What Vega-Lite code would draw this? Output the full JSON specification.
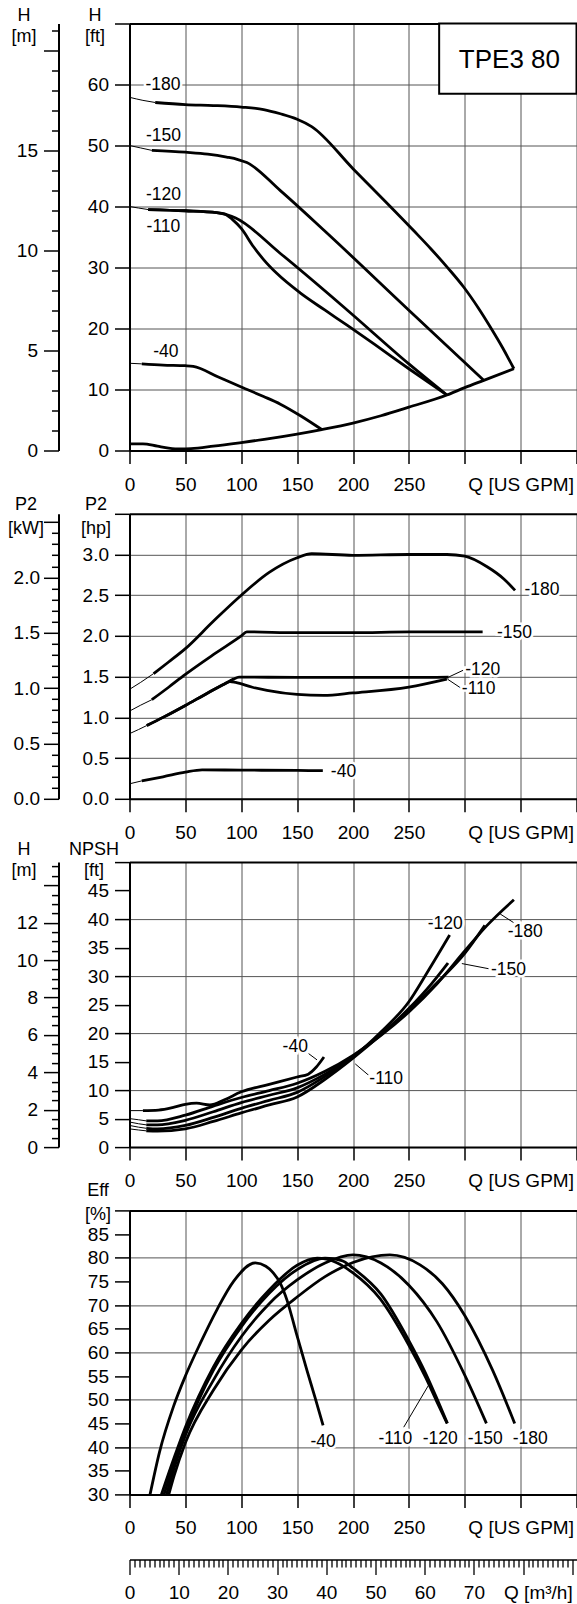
{
  "$schema": "https://vega.github.io/schema/vega-lite/v6.json",
  "background": "white",
  "padding": {"left": 7.5, "top": 6.5, "right": 0, "bottom": 0},
  "config": {
    "font": "Liberation Sans",
    "view": {"stroke": null},
    "axis": {
      "labelFont": "Liberation Sans", "labelFontSize": 19, "labelColor": "black",
      "titleFont": "Liberation Sans", "titleFontSize": 18, "titleFontWeight": "normal", "titleColor": "black",
      "domainColor": "black", "domainWidth": 2, "tickColor": "black", "tickWidth": 1.5,
      "gridColor": "#555", "gridWidth": 1, "labelOverlap": false, "labelBound": false, "labelFlush": false
    },
    "text": {"font": "Liberation Sans", "fontSize": 17.5},
    "line": {"interpolate": "monotone", "color": "black", "strokeJoin": "round"}
  },
  "datasets": {
    "h": [
      {"c":"-180","part":"start","q":0,"v":57.9},{"c":"-180","part":"start","q":12,"v":57.4},{"c":"-180","part":"start","q":23,"v":57.05},
      {"c":"-180","part":"main","q":23,"v":57.05},{"c":"-180","part":"main","q":50,"v":56.7},{"c":"-180","part":"main","q":75,"v":56.55},{"c":"-180","part":"main","q":100,"v":56.3},{"c":"-180","part":"main","q":120,"v":55.9},{"c":"-180","part":"main","q":135,"v":55.2},{"c":"-180","part":"main","q":150,"v":54.3},{"c":"-180","part":"main","q":163,"v":53.1},{"c":"-180","part":"main","q":200,"v":46.2},{"c":"-180","part":"main","q":254,"v":36.1},{"c":"-180","part":"main","q":270,"v":33.0},{"c":"-180","part":"main","q":285,"v":29.9},{"c":"-180","part":"main","q":299,"v":26.8},{"c":"-180","part":"main","q":312,"v":23.4},{"c":"-180","part":"main","q":323,"v":20.2},{"c":"-180","part":"main","q":334,"v":16.8},{"c":"-180","part":"main","q":344,"v":13.4},
      {"c":"-150","part":"start","q":0,"v":50.0},{"c":"-150","part":"start","q":10,"v":49.6},{"c":"-150","part":"start","q":20,"v":49.2},
      {"c":"-150","part":"main","q":20,"v":49.2},{"c":"-150","part":"main","q":50,"v":48.9},{"c":"-150","part":"main","q":70,"v":48.6},{"c":"-150","part":"main","q":87,"v":48.1},{"c":"-150","part":"main","q":97,"v":47.7},{"c":"-150","part":"main","q":105,"v":47.2},{"c":"-150","part":"main","q":135,"v":42.6},{"c":"-150","part":"main","q":174,"v":36.1},{"c":"-150","part":"main","q":250,"v":23.0},{"c":"-150","part":"main","q":317,"v":11.5},
      {"c":"-120","part":"start","q":0,"v":40.0},{"c":"-120","part":"start","q":8,"v":39.75},{"c":"-120","part":"start","q":16.7,"v":39.5},
      {"c":"-120","part":"main","q":16.7,"v":39.5},{"c":"-120","part":"main","q":50,"v":39.3},{"c":"-120","part":"main","q":78,"v":39.0},{"c":"-120","part":"main","q":88,"v":38.6},{"c":"-120","part":"main","q":95,"v":38.1},{"c":"-120","part":"main","q":135,"v":32.3},{"c":"-120","part":"main","q":195,"v":23.0},{"c":"-120","part":"main","q":250,"v":14.2},{"c":"-120","part":"main","q":284,"v":9.1},
      {"c":"-110","part":"main","q":16.7,"v":39.5},{"c":"-110","part":"main","q":50,"v":39.3},{"c":"-110","part":"main","q":78,"v":39.0},{"c":"-110","part":"main","q":85,"v":38.8},{"c":"-110","part":"main","q":92,"v":37.9},{"c":"-110","part":"main","q":100,"v":36.4},{"c":"-110","part":"main","q":111,"v":33.4},{"c":"-110","part":"main","q":120,"v":31.3},{"c":"-110","part":"main","q":132,"v":29.0},{"c":"-110","part":"main","q":153,"v":25.8},{"c":"-110","part":"main","q":175,"v":23.0},{"c":"-110","part":"main","q":195,"v":20.5},{"c":"-110","part":"main","q":220,"v":17.3},{"c":"-110","part":"main","q":250,"v":13.4},{"c":"-110","part":"main","q":284,"v":9.1},
      {"c":"-40","part":"start","q":0,"v":14.3},{"c":"-40","part":"start","q":11,"v":14.2},
      {"c":"-40","part":"main","q":11,"v":14.2},{"c":"-40","part":"main","q":30,"v":14.0},{"c":"-40","part":"main","q":50,"v":13.9},{"c":"-40","part":"main","q":57,"v":13.8},{"c":"-40","part":"main","q":80,"v":12.0},{"c":"-40","part":"main","q":100,"v":10.4},{"c":"-40","part":"main","q":120,"v":8.85},{"c":"-40","part":"main","q":135,"v":7.6},{"c":"-40","part":"main","q":153,"v":5.7},{"c":"-40","part":"main","q":172,"v":3.44},
      {"c":"sys","part":"main","q":0,"v":1.1},{"c":"sys","part":"main","q":12,"v":1.1},{"c":"sys","part":"main","q":25,"v":0.7},{"c":"sys","part":"main","q":35,"v":0.4},{"c":"sys","part":"main","q":45,"v":0.25},{"c":"sys","part":"main","q":55,"v":0.3},{"c":"sys","part":"main","q":75,"v":0.7},{"c":"sys","part":"main","q":100,"v":1.3},{"c":"sys","part":"main","q":125,"v":1.95},{"c":"sys","part":"main","q":150,"v":2.7},{"c":"sys","part":"main","q":172,"v":3.44},{"c":"sys","part":"main","q":200,"v":4.5},{"c":"sys","part":"main","q":225,"v":5.7},{"c":"sys","part":"main","q":250,"v":7.1},{"c":"sys","part":"main","q":284,"v":9.1},{"c":"sys","part":"main","q":300,"v":10.3},{"c":"sys","part":"main","q":317,"v":11.5},{"c":"sys","part":"main","q":344,"v":13.4}
    ],
    "p2": [
      {"c":"-180","part":"start","q":0,"v":1.344},{"c":"-180","part":"start","q":10,"v":1.43},{"c":"-180","part":"start","q":21.5,"v":1.537},
      {"c":"-180","part":"main","q":21.5,"v":1.537},{"c":"-180","part":"main","q":35,"v":1.68},{"c":"-180","part":"main","q":50,"v":1.844},{"c":"-180","part":"main","q":75,"v":2.18},{"c":"-180","part":"main","q":100,"v":2.5},{"c":"-180","part":"main","q":125,"v":2.78},{"c":"-180","part":"main","q":150,"v":2.96},{"c":"-180","part":"main","q":163,"v":3.01},{"c":"-180","part":"main","q":200,"v":2.99},{"c":"-180","part":"main","q":250,"v":3.0},{"c":"-180","part":"main","q":284,"v":3.0},{"c":"-180","part":"main","q":300,"v":2.98},{"c":"-180","part":"main","q":320,"v":2.85},{"c":"-180","part":"main","q":335,"v":2.7},{"c":"-180","part":"main","q":345,"v":2.56},
      {"c":"-150","part":"start","q":0,"v":1.077},{"c":"-150","part":"start","q":10,"v":1.15},{"c":"-150","part":"start","q":20,"v":1.217},
      {"c":"-150","part":"main","q":20,"v":1.217},{"c":"-150","part":"main","q":35,"v":1.37},{"c":"-150","part":"main","q":50,"v":1.528},{"c":"-150","part":"main","q":75,"v":1.77},{"c":"-150","part":"main","q":100,"v":2.0},{"c":"-150","part":"main","q":105,"v":2.05},{"c":"-150","part":"main","q":150,"v":2.04},{"c":"-150","part":"main","q":200,"v":2.04},{"c":"-150","part":"main","q":250,"v":2.05},{"c":"-150","part":"main","q":316,"v":2.05},
      {"c":"-120","part":"start","q":0,"v":0.8},{"c":"-120","part":"start","q":8,"v":0.85},{"c":"-120","part":"start","q":15.5,"v":0.9},
      {"c":"-120","part":"main","q":15.5,"v":0.9},{"c":"-120","part":"main","q":30,"v":1.0},{"c":"-120","part":"main","q":50,"v":1.147},{"c":"-120","part":"main","q":70,"v":1.3},{"c":"-120","part":"main","q":85,"v":1.41},{"c":"-120","part":"main","q":93,"v":1.47},{"c":"-120","part":"main","q":98,"v":1.495},{"c":"-120","part":"main","q":150,"v":1.49},{"c":"-120","part":"main","q":200,"v":1.49},{"c":"-120","part":"main","q":250,"v":1.49},{"c":"-120","part":"main","q":285.6,"v":1.495},
      {"c":"-110","part":"main","q":15.5,"v":0.9},{"c":"-110","part":"main","q":30,"v":1.0},{"c":"-110","part":"main","q":50,"v":1.147},{"c":"-110","part":"main","q":70,"v":1.3},{"c":"-110","part":"main","q":85,"v":1.41},{"c":"-110","part":"main","q":90,"v":1.44},{"c":"-110","part":"main","q":95,"v":1.43},{"c":"-110","part":"main","q":110,"v":1.37},{"c":"-110","part":"main","q":123,"v":1.332},{"c":"-110","part":"main","q":150,"v":1.282},{"c":"-110","part":"main","q":173.7,"v":1.27},{"c":"-110","part":"main","q":200,"v":1.3},{"c":"-110","part":"main","q":250,"v":1.372},{"c":"-110","part":"main","q":284,"v":1.47},
      {"c":"-40","part":"start","q":0,"v":0.184},{"c":"-40","part":"start","q":11,"v":0.22},
      {"c":"-40","part":"main","q":11,"v":0.22},{"c":"-40","part":"main","q":30,"v":0.27},{"c":"-40","part":"main","q":50,"v":0.327},{"c":"-40","part":"main","q":65,"v":0.355},{"c":"-40","part":"main","q":100,"v":0.352},{"c":"-40","part":"main","q":150,"v":0.348},{"c":"-40","part":"main","q":173,"v":0.345}
    ],
    "npsh": [
      {"c":"-180","part":"start","q":0,"v":5.0},{"c":"-180","part":"start","q":8,"v":4.8},{"c":"-180","part":"start","q":15,"v":4.6},
      {"c":"-180","part":"main","q":15,"v":4.6},{"c":"-180","part":"main","q":25,"v":4.6},{"c":"-180","part":"main","q":50,"v":5.6},{"c":"-180","part":"main","q":75,"v":7.2},{"c":"-180","part":"main","q":100,"v":8.7},{"c":"-180","part":"main","q":125,"v":9.9},{"c":"-180","part":"main","q":150,"v":11.2},{"c":"-180","part":"main","q":175,"v":13.3},{"c":"-180","part":"main","q":200,"v":16.1},{"c":"-180","part":"main","q":225,"v":19.6},{"c":"-180","part":"main","q":250,"v":23.7},{"c":"-180","part":"main","q":275,"v":28.6},{"c":"-180","part":"main","q":300,"v":34.4},{"c":"-180","part":"main","q":320,"v":38.9},{"c":"-180","part":"main","q":344,"v":43.4},
      {"c":"-150","part":"start","q":0,"v":4.4},{"c":"-150","part":"start","q":8,"v":4.1},{"c":"-150","part":"start","q":15,"v":3.9},
      {"c":"-150","part":"main","q":15,"v":3.9},{"c":"-150","part":"main","q":25,"v":3.9},{"c":"-150","part":"main","q":50,"v":4.7},{"c":"-150","part":"main","q":75,"v":6.2},{"c":"-150","part":"main","q":100,"v":7.8},{"c":"-150","part":"main","q":125,"v":9.1},{"c":"-150","part":"main","q":150,"v":10.4},{"c":"-150","part":"main","q":175,"v":12.8},{"c":"-150","part":"main","q":200,"v":15.9},{"c":"-150","part":"main","q":225,"v":19.8},{"c":"-150","part":"main","q":250,"v":24.0},{"c":"-150","part":"main","q":275,"v":28.8},{"c":"-150","part":"main","q":300,"v":34.0},{"c":"-150","part":"main","q":318,"v":38.9},
      {"c":"-120","part":"start","q":0,"v":3.8},{"c":"-120","part":"start","q":8,"v":3.5},{"c":"-120","part":"start","q":15,"v":3.3},
      {"c":"-120","part":"main","q":15,"v":3.3},{"c":"-120","part":"main","q":25,"v":3.2},{"c":"-120","part":"main","q":50,"v":3.8},{"c":"-120","part":"main","q":75,"v":5.2},{"c":"-120","part":"main","q":100,"v":6.8},{"c":"-120","part":"main","q":125,"v":8.2},{"c":"-120","part":"main","q":150,"v":9.6},{"c":"-120","part":"main","q":175,"v":12.4},{"c":"-120","part":"main","q":200,"v":15.8},{"c":"-120","part":"main","q":225,"v":20.2},{"c":"-120","part":"main","q":250,"v":25.5},{"c":"-120","part":"main","q":266,"v":30.5},{"c":"-120","part":"main","q":286.5,"v":37.2},
      {"c":"-110","part":"start","q":0,"v":3.2},{"c":"-110","part":"start","q":8,"v":3.0},{"c":"-110","part":"start","q":15,"v":2.85},
      {"c":"-110","part":"main","q":15,"v":2.85},{"c":"-110","part":"main","q":25,"v":2.8},{"c":"-110","part":"main","q":50,"v":3.2},{"c":"-110","part":"main","q":75,"v":4.5},{"c":"-110","part":"main","q":100,"v":6.0},{"c":"-110","part":"main","q":125,"v":7.4},{"c":"-110","part":"main","q":150,"v":8.8},{"c":"-110","part":"main","q":175,"v":11.9},{"c":"-110","part":"main","q":200,"v":15.6},{"c":"-110","part":"main","q":225,"v":19.7},{"c":"-110","part":"main","q":250,"v":24.3},{"c":"-110","part":"main","q":270,"v":28.6},{"c":"-110","part":"main","q":285,"v":32.3},
      {"c":"-40","part":"start","q":0,"v":6.4},{"c":"-40","part":"start","q":12,"v":6.4},
      {"c":"-40","part":"main","q":12,"v":6.4},{"c":"-40","part":"main","q":26,"v":6.5},{"c":"-40","part":"main","q":40,"v":7.0},{"c":"-40","part":"main","q":50,"v":7.5},{"c":"-40","part":"main","q":60,"v":7.7},{"c":"-40","part":"main","q":72,"v":7.4},{"c":"-40","part":"main","q":85,"v":8.3},{"c":"-40","part":"main","q":100,"v":9.7},{"c":"-40","part":"main","q":125,"v":11.0},{"c":"-40","part":"main","q":150,"v":12.3},{"c":"-40","part":"main","q":160,"v":12.8},{"c":"-40","part":"main","q":167,"v":14.0},{"c":"-40","part":"main","q":174,"v":15.8}
    ],
    "eff": [
      {"c":"-40","q":18.4,"v":30},{"c":"-40","q":26.9,"v":39.0},{"c":"-40","q":39.4,"v":48.6},{"c":"-40","q":50,"v":55.0},{"c":"-40","q":63.3,"v":61.9},{"c":"-40","q":78.2,"v":69.0},{"c":"-40","q":93.1,"v":75.0},{"c":"-40","q":112.6,"v":78.9},{"c":"-40","q":122,"v":78.2},{"c":"-40","q":129,"v":76.7},{"c":"-40","q":135,"v":74.6},{"c":"-40","q":141,"v":71.0},{"c":"-40","q":149,"v":64.3},{"c":"-40","q":158.8,"v":56.2},{"c":"-40","q":166,"v":50.5},{"c":"-40","q":173.2,"v":44.6},
      {"c":"-110","q":28.6,"v":30},{"c":"-110","q":40,"v":37.8},{"c":"-110","q":50,"v":44.2},{"c":"-110","q":75,"v":56.9},{"c":"-110","q":100,"v":66.1},{"c":"-110","q":125,"v":73.2},{"c":"-110","q":150,"v":78.4},{"c":"-110","q":168,"v":79.9},{"c":"-110","q":185,"v":79.0},{"c":"-110","q":200,"v":76.8},{"c":"-110","q":224,"v":71.4},{"c":"-110","q":250,"v":61.5},{"c":"-110","q":265,"v":54.7},{"c":"-110","q":275,"v":49.6},{"c":"-110","q":284.2,"v":45},
      {"c":"-120","q":30.9,"v":30},{"c":"-120","q":40,"v":36.6},{"c":"-120","q":50,"v":43.2},{"c":"-120","q":75,"v":56.2},{"c":"-120","q":100,"v":65.4},{"c":"-120","q":125,"v":72.5},{"c":"-120","q":150,"v":77.5},{"c":"-120","q":175,"v":79.9},{"c":"-120","q":190,"v":79.4},{"c":"-120","q":200,"v":77.8},{"c":"-120","q":225,"v":72.3},{"c":"-120","q":250,"v":62.5},{"c":"-120","q":265,"v":55.6},{"c":"-120","q":275,"v":50.3},{"c":"-120","q":284.5,"v":45},
      {"c":"-150","q":33.2,"v":30},{"c":"-150","q":40,"v":35.6},{"c":"-150","q":50,"v":42.5},{"c":"-150","q":75,"v":54.1},{"c":"-150","q":100,"v":63.3},{"c":"-150","q":125,"v":70.3},{"c":"-150","q":150,"v":75.3},{"c":"-150","q":175,"v":78.9},{"c":"-150","q":200,"v":80.6},{"c":"-150","q":225,"v":78.9},{"c":"-150","q":250,"v":74.2},{"c":"-150","q":275,"v":66.5},{"c":"-150","q":300,"v":55.2},{"c":"-150","q":319.4,"v":45},
      {"c":"-180","q":35.2,"v":30},{"c":"-180","q":40,"v":34.0},{"c":"-180","q":50,"v":40.9},{"c":"-180","q":75,"v":52.0},{"c":"-180","q":100,"v":60.5},{"c":"-180","q":125,"v":66.8},{"c":"-180","q":150,"v":71.7},{"c":"-180","q":175,"v":76.0},{"c":"-180","q":200,"v":79.0},{"c":"-180","q":233,"v":80.6},{"c":"-180","q":260,"v":78.5},{"c":"-180","q":280,"v":74.5},{"c":"-180","q":300,"v":67.8},{"c":"-180","q":325,"v":56.2},{"c":"-180","q":344.7,"v":45}
    ],
    "lab_h": [{"t":"-180","q":30,"v":60},{"t":"-150","q":30.4,"v":51.5},{"t":"-120","q":30.4,"v":41.9},{"t":"-110","q":30.4,"v":36.6},{"t":"-40","q":32.6,"v":16.1}],
    "box": [{"t":"TPE3 80","q":277.1,"q2":400,"v":58.5,"v2":70,"tq":340,"tv":64.0}],
    "lab_p2": [{"t":"-180","q":353.5,"v":2.56},{"t":"-150","q":328.8,"v":2.04},{"t":"-120","q":300.4,"v":1.586},{"t":"-110","q":297.4,"v":1.344},{"t":"-40","q":180.2,"v":0.327}],
    "lead_p2": [{"q":285.6,"v":1.495,"q2":298.5,"v2":1.578},{"q":284.5,"v":1.47,"q2":297.4,"v2":1.352}],
    "lab_npsh": [{"t":"-40","q":148.3,"v":17.5},{"t":"-110","q":229.7,"v":12.0},{"t":"-120","q":282.5,"v":39.2},{"t":"-150","q":339.2,"v":31.1},{"t":"-180","q":354.1,"v":37.7}],
    "lead_npsh": [{"q":160.3,"v":16.4,"q2":167.8,"v2":15.3},{"q":214,"v":12.6,"q2":202,"v2":14.6},{"q":297.4,"v":32.2,"q2":321.3,"v2":31.3},{"q":331.7,"v":40.9,"q2":343.6,"v2":39.4}],
    "lab_eff": [{"t":"-40","q":173.2,"v":41.1},{"t":"-110","q":237.8,"v":41.6},{"t":"-120","q":278.0,"v":41.6},{"t":"-150","q":318.3,"v":41.6},{"t":"-180","q":358.6,"v":41.8}],
    "lead_eff": [{"q":245.4,"v":44.2,"q2":267.7,"v2":53.1}]
  },
  "vconcat": [
    {
      "width": 447, "height": 427,
      "layer": [
        {
          "layer": [
            {
              "data": {"name": "h"},
              "mark": {"type": "line"},
              "encoding": {
                "x": {"field": "q", "type": "quantitative", "scale": {"domain": [0, 400], "nice": false, "zero": false},
                  "axis": {"values": [0,25,50,75,100,125,150,175,200,225,250,275,300,325,350,375,400], "labelOverlap": false,
                    "tickSize": {"condition": {"test": "datum.value % 50 == 0", "value": 13}, "value": 7},
                    "grid": true, "gridOpacity": {"condition": {"test": "datum.value % 50 == 0", "value": 1}, "value": 0},
                    "labelExpr": "datum.value == 350 ? 'Q [US GPM]' : (datum.value < 300 && datum.value % 50 == 0 ? datum.label : '')",
                    "labelPadding": 11.5, "title": null}},
                "y": {"field": "v", "type": "quantitative", "scale": {"domain": [0, 70], "nice": false, "zero": false},
                  "axis": {"values": [0,5,10,15,20,25,30,35,40,45,50,55,60,65,70], "labelOverlap": false,
                    "tickSize": {"condition": {"test": "datum.value % 10 == 0", "value": 15}, "value": 7},
                    "grid": true, "gridOpacity": {"condition": {"test": "datum.value % 10 == 0", "value": 1}, "value": 0},
                    "gridColor": {"condition": {"test": "datum.value == 70", "value": "black"}, "value": "#555"},
                    "gridWidth": {"condition": {"test": "datum.value == 70", "value": 2}, "value": 1},
                    "labelExpr": "datum.value % 10 == 0 && datum.value < 70 ? datum.label : ''",
                    "labelPadding": 6,
                    "title": ["H", "[ft]"], "titleAngle": 0, "titleAlign": "center", "titleBaseline": "alphabetic",
                    "titleX": -35, "titleY": -3, "titleLineHeight": 21}},
                "detail": [{"field": "c"}, {"field": "part"}],
                "strokeWidth": {"field": "part", "type": "nominal", "scale": {"domain": ["start", "main"], "range": [1, 2.8]}, "legend": null}
              }
            },
            {
              "data": {"name": "box"},
              "mark": {"type": "rect", "fill": "white", "stroke": "black", "strokeWidth": 2},
              "encoding": {
                "x": {"field": "q", "type": "quantitative", "scale": {"domain": [0, 400], "nice": false, "zero": false}},
                "x2": {"field": "q2"},
                "y": {"field": "v", "type": "quantitative", "scale": {"domain": [0, 70], "nice": false, "zero": false}},
                "y2": {"field": "v2"}
              }
            },
            {
              "data": {"name": "box"},
              "mark": {"type": "text", "fontSize": 26, "align": "center", "baseline": "middle"},
              "encoding": {
                "x": {"field": "tq", "type": "quantitative", "scale": {"domain": [0, 400], "nice": false, "zero": false}},
                "y": {"field": "tv", "type": "quantitative", "scale": {"domain": [0, 70], "nice": false, "zero": false}},
                "text": {"field": "t"}
              }
            },
            {
              "data": {"name": "lab_h"},
              "mark": {"type": "text", "fill": "white", "stroke": "white", "strokeWidth": 5, "align": "center", "baseline": "middle"},
              "encoding": {
                "x": {"field": "q", "type": "quantitative", "scale": {"domain": [0, 400], "nice": false, "zero": false}},
                "y": {"field": "v", "type": "quantitative", "scale": {"domain": [0, 70], "nice": false, "zero": false}},
                "text": {"field": "t"}
              }
            },
            {
              "data": {"name": "lab_h"},
              "mark": {"type": "text", "fill": "black", "align": "center", "baseline": "middle"},
              "encoding": {
                "x": {"field": "q", "type": "quantitative", "scale": {"domain": [0, 400], "nice": false, "zero": false}},
                "y": {"field": "v", "type": "quantitative", "scale": {"domain": [0, 70], "nice": false, "zero": false}},
                "text": {"field": "t"}
              }
            }
          ]
        },
        {
          "data": {"values": [{"m": 0}]},
          "mark": {"type": "point", "opacity": 0},
          "encoding": {
            "y": {"field": "m", "type": "quantitative", "scale": {"domain": [0, 21.336], "nice": false, "zero": false},
              "axis": {"orient": "left", "offset": 71, "values": [0,1,2,3,4,5,6,7,8,9,10,11,12,13,14,15,16,17,18,19,20,21], "labelOverlap": false,
                "tickSize": {"condition": {"test": "datum.value % 5 == 0", "value": 15}, "value": 7},
                "grid": false, "labelExpr": "datum.value % 5 == 0 && datum.value < 20 ? datum.label : ''", "labelPadding": 6,
                "title": ["H", "[m]"], "titleAngle": 0, "titleAlign": "center", "titleBaseline": "alphabetic",
                "titleX": -35, "titleY": -3, "titleLineHeight": 21}}
          }
        }
      ],
      "resolve": {"scale": {"y": "independent"}}
    },
    {
      "width": 447, "height": 285,
      "layer": [
        {
          "layer": [
            {
              "data": {"name": "p2"},
              "mark": {"type": "line"},
              "encoding": {
                "x": {"field": "q", "type": "quantitative", "scale": {"domain": [0, 400], "nice": false, "zero": false},
                  "axis": {"values": [0,25,50,75,100,125,150,175,200,225,250,275,300,325,350,375,400], "labelOverlap": false,
                    "tickSize": {"condition": {"test": "datum.value % 50 == 0", "value": 13}, "value": 7},
                    "grid": true, "gridOpacity": {"condition": {"test": "datum.value % 50 == 0", "value": 1}, "value": 0},
                    "labelExpr": "datum.value == 350 ? 'Q [US GPM]' : (datum.value < 300 && datum.value % 50 == 0 ? datum.label : '')",
                    "labelPadding": 11.5, "title": null}},
                "y": {"field": "v", "type": "quantitative", "scale": {"domain": [0, 3.5], "nice": false, "zero": false},
                  "axis": {"values": [0,0.25,0.5,0.75,1,1.25,1.5,1.75,2,2.25,2.5,2.75,3,3.25,3.5], "labelOverlap": false,
                    "tickSize": {"condition": {"test": "abs(datum.value*2 - round(datum.value*2)) < 0.01", "value": 15}, "value": 7},
                    "grid": true, "gridOpacity": {"condition": {"test": "abs(datum.value*2 - round(datum.value*2)) < 0.01", "value": 1}, "value": 0},
                    "gridColor": {"condition": {"test": "datum.value > 3.4", "value": "black"}, "value": "#555"},
                    "gridWidth": {"condition": {"test": "datum.value > 3.4", "value": 2}, "value": 1},
                    "labelExpr": "abs(datum.value*2 - round(datum.value*2)) < 0.01 && datum.value < 3.4 ? format(datum.value, '.1f') : ''",
                    "labelPadding": 6,
                    "title": ["P2", "[hp]"], "titleAngle": 0, "titleAlign": "center", "titleBaseline": "alphabetic",
                    "titleX": -34, "titleY": -4, "titleLineHeight": 24}},
                "detail": [{"field": "c"}, {"field": "part"}],
                "strokeWidth": {"field": "part", "type": "nominal", "scale": {"domain": ["start", "main"], "range": [1, 2.8]}, "legend": null}
              }
            },
            {
              "data": {"name": "lead_p2"},
              "mark": {"type": "rule", "strokeWidth": 1, "color": "black"},
              "encoding": {
                "x": {"field": "q", "type": "quantitative", "scale": {"domain": [0, 400], "nice": false, "zero": false}},
                "x2": {"field": "q2"},
                "y": {"field": "v", "type": "quantitative", "scale": {"domain": [0, 3.5], "nice": false, "zero": false}},
                "y2": {"field": "v2"}
              }
            },
            {
              "data": {"name": "lab_p2"},
              "mark": {"type": "text", "fill": "white", "stroke": "white", "strokeWidth": 5, "align": "left", "baseline": "middle"},
              "encoding": {
                "x": {"field": "q", "type": "quantitative", "scale": {"domain": [0, 400], "nice": false, "zero": false}},
                "y": {"field": "v", "type": "quantitative", "scale": {"domain": [0, 3.5], "nice": false, "zero": false}},
                "text": {"field": "t"}
              }
            },
            {
              "data": {"name": "lab_p2"},
              "mark": {"type": "text", "fill": "black", "align": "left", "baseline": "middle"},
              "encoding": {
                "x": {"field": "q", "type": "quantitative", "scale": {"domain": [0, 400], "nice": false, "zero": false}},
                "y": {"field": "v", "type": "quantitative", "scale": {"domain": [0, 3.5], "nice": false, "zero": false}},
                "text": {"field": "t"}
              }
            }
          ]
        },
        {
          "data": {"values": [{"kw": 0}]},
          "mark": {"type": "point", "opacity": 0},
          "encoding": {
            "y": {"field": "kw", "type": "quantitative", "scale": {"domain": [0, 2.5744], "nice": false, "zero": false},
              "axis": {"orient": "left", "offset": 71, "values": [0,0.1,0.2,0.3,0.4,0.5,0.6,0.7,0.8,0.9,1,1.1,1.2,1.3,1.4,1.5,1.6,1.7,1.8,1.9,2,2.1,2.2,2.3,2.4,2.5], "labelOverlap": false,
                "tickSize": {"condition": {"test": "abs(datum.value*2 - round(datum.value*2)) < 0.01", "value": 15}, "value": 7},
                "grid": false,
                "labelExpr": "abs(datum.value*2 - round(datum.value*2)) < 0.01 && datum.value < 2.4 ? format(datum.value, '.1f') : ''",
                "labelPadding": 4,
                "title": ["P2", "[kW]"], "titleAngle": 0, "titleAlign": "center", "titleBaseline": "alphabetic",
                "titleX": -33, "titleY": -4, "titleLineHeight": 24}}
          }
        }
      ],
      "resolve": {"scale": {"y": "independent"}}
    },
    {
      "width": 447, "height": 285,
      "layer": [
        {
          "layer": [
            {
              "data": {"name": "npsh"},
              "mark": {"type": "line"},
              "encoding": {
                "x": {"field": "q", "type": "quantitative", "scale": {"domain": [0, 400], "nice": false, "zero": false},
                  "axis": {"values": [0,25,50,75,100,125,150,175,200,225,250,275,300,325,350,375,400], "labelOverlap": false,
                    "tickSize": {"condition": {"test": "datum.value % 50 == 0", "value": 13}, "value": 7},
                    "grid": true, "gridOpacity": {"condition": {"test": "datum.value % 50 == 0", "value": 1}, "value": 0},
                    "labelExpr": "datum.value == 350 ? 'Q [US GPM]' : (datum.value < 300 && datum.value % 50 == 0 ? datum.label : '')",
                    "labelPadding": 11.5, "title": null}},
                "y": {"field": "v", "type": "quantitative", "scale": {"domain": [0, 50], "nice": false, "zero": false},
                  "axis": {"values": [0,2.5,5,7.5,10,12.5,15,17.5,20,22.5,25,27.5,30,32.5,35,37.5,40,42.5,45,47.5,50], "labelOverlap": false,
                    "tickSize": {"condition": {"test": "datum.value % 5 == 0", "value": 15}, "value": 7},
                    "grid": true, "gridOpacity": {"condition": {"test": "datum.value % 5 == 0", "value": 1}, "value": 0},
                    "gridColor": {"condition": {"test": "datum.value == 50", "value": "black"}, "value": "#555"},
                    "gridWidth": {"condition": {"test": "datum.value == 50", "value": 2}, "value": 1},
                    "labelExpr": "datum.value % 10 == 0 && datum.value < 50 ? format(datum.value, 'd') : ''",
                    "labelPadding": 6,
                    "title": ["NPSH", "[ft]"], "titleAngle": 0, "titleAlign": "center", "titleBaseline": "alphabetic",
                    "titleX": -36, "titleY": -8, "titleLineHeight": 21}},
                "detail": [{"field": "c"}, {"field": "part"}],
                "strokeWidth": {"field": "part", "type": "nominal", "scale": {"domain": ["start", "main"], "range": [1, 2.6]}, "legend": null}
              }
            },
            {
              "data": {"name": "lead_npsh"},
              "mark": {"type": "rule", "strokeWidth": 1, "color": "black"},
              "encoding": {
                "x": {"field": "q", "type": "quantitative", "scale": {"domain": [0, 400], "nice": false, "zero": false}},
                "x2": {"field": "q2"},
                "y": {"field": "v", "type": "quantitative", "scale": {"domain": [0, 50], "nice": false, "zero": false}},
                "y2": {"field": "v2"}
              }
            },
            {
              "data": {"name": "lab_npsh"},
              "mark": {"type": "text", "fill": "white", "stroke": "white", "strokeWidth": 5, "align": "center", "baseline": "middle"},
              "encoding": {
                "x": {"field": "q", "type": "quantitative", "scale": {"domain": [0, 400], "nice": false, "zero": false}},
                "y": {"field": "v", "type": "quantitative", "scale": {"domain": [0, 50], "nice": false, "zero": false}},
                "text": {"field": "t"}
              }
            },
            {
              "data": {"name": "lab_npsh"},
              "mark": {"type": "text", "fill": "black", "align": "center", "baseline": "middle"},
              "encoding": {
                "x": {"field": "q", "type": "quantitative", "scale": {"domain": [0, 400], "nice": false, "zero": false}},
                "y": {"field": "v", "type": "quantitative", "scale": {"domain": [0, 50], "nice": false, "zero": false}},
                "text": {"field": "t"}
              }
            }
          ]
        },
        {
          "data": {"values": [{"m": 0}]},
          "mark": {"type": "point", "opacity": 0},
          "encoding": {
            "y": {"field": "m", "type": "quantitative", "scale": {"domain": [0, 15.24], "nice": false, "zero": false},
              "axis": {"orient": "left", "offset": 71, "values": [0,0.5,1,1.5,2,2.5,3,3.5,4,4.5,5,5.5,6,6.5,7,7.5,8,8.5,9,9.5,10,10.5,11,11.5,12,12.5,13,13.5,14,14.5,15], "labelOverlap": false,
                "tickSize": {"condition": {"test": "datum.value % 2 == 0", "value": 15}, "value": 7},
                "grid": false, "labelExpr": "datum.value % 2 == 0 && datum.value < 13 ? format(datum.value, 'd') : ''", "labelPadding": 6,
                "title": ["H", "[m]"], "titleAngle": 0, "titleAlign": "center", "titleBaseline": "alphabetic",
                "titleX": -35, "titleY": -8, "titleLineHeight": 21}}
          }
        },
        {
          "data": {"values": [{"ft": 0}]},
          "mark": {"type": "point", "opacity": 0},
          "encoding": {
            "y": {"field": "ft", "type": "quantitative", "scale": {"domain": [0, 50], "nice": false, "zero": false},
              "axis": {"orient": "left", "values": [5,15,25,35,45], "labelOverlap": false, "tickSize": 15, "grid": false, "domain": false,
                "labelPadding": 6, "title": null}}
          }
        }
      ],
      "resolve": {"scale": {"y": "independent"}}
    },
    {
      "width": 447, "height": 284,
      "layer": [
        {
          "layer": [
            {
              "data": {"name": "eff"},
              "mark": {"type": "line", "strokeWidth": 2.8},
              "encoding": {
                "x": {"field": "q", "type": "quantitative", "scale": {"domain": [0, 400], "nice": false, "zero": false},
                  "axis": {"values": [0,25,50,75,100,125,150,175,200,225,250,275,300,325,350,375,400], "labelOverlap": false,
                    "tickSize": {"condition": {"test": "datum.value % 50 == 0", "value": 13}, "value": 7},
                    "grid": true, "gridOpacity": {"condition": {"test": "datum.value % 50 == 0", "value": 1}, "value": 0},
                    "labelExpr": "datum.value == 350 ? 'Q [US GPM]' : (datum.value < 300 && datum.value % 50 == 0 ? datum.label : '')",
                    "labelPadding": 11.5, "title": null}},
                "y": {"field": "v", "type": "quantitative", "scale": {"domain": [30, 90], "nice": false, "zero": false},
                  "axis": {"values": [30,32.5,35,37.5,40,42.5,45,47.5,50,52.5,55,57.5,60,62.5,65,67.5,70,72.5,75,77.5,80,82.5,85,87.5,90], "labelOverlap": false,
                    "tickSize": {"condition": {"test": "datum.value % 5 == 0", "value": 15}, "value": 7},
                    "grid": true, "gridOpacity": {"condition": {"test": "datum.value % 5 == 0", "value": 1}, "value": 0},
                    "gridColor": {"condition": {"test": "datum.value == 90", "value": "black"}, "value": "#555"},
                    "gridWidth": {"condition": {"test": "datum.value == 90", "value": 2}, "value": 1},
                    "labelExpr": "datum.value % 10 == 0 && datum.value < 90 ? format(datum.value, 'd') : ''",
                    "labelPadding": 6,
                    "title": ["Eff", "[%]"], "titleAngle": 0, "titleAlign": "center", "titleBaseline": "alphabetic",
                    "titleX": -32, "titleY": -15, "titleLineHeight": 24}},
                "detail": {"field": "c"}
              }
            },
            {
              "data": {"name": "lead_eff"},
              "mark": {"type": "rule", "strokeWidth": 1, "color": "black"},
              "encoding": {
                "x": {"field": "q", "type": "quantitative", "scale": {"domain": [0, 400], "nice": false, "zero": false}},
                "x2": {"field": "q2"},
                "y": {"field": "v", "type": "quantitative", "scale": {"domain": [30, 90], "nice": false, "zero": false}},
                "y2": {"field": "v2"}
              }
            },
            {
              "data": {"name": "lab_eff"},
              "mark": {"type": "text", "fill": "white", "stroke": "white", "strokeWidth": 5, "align": "center", "baseline": "middle"},
              "encoding": {
                "x": {"field": "q", "type": "quantitative", "scale": {"domain": [0, 400], "nice": false, "zero": false}},
                "y": {"field": "v", "type": "quantitative", "scale": {"domain": [30, 90], "nice": false, "zero": false}},
                "text": {"field": "t"}
              }
            },
            {
              "data": {"name": "lab_eff"},
              "mark": {"type": "text", "fill": "black", "align": "center", "baseline": "middle"},
              "encoding": {
                "x": {"field": "q", "type": "quantitative", "scale": {"domain": [0, 400], "nice": false, "zero": false}},
                "y": {"field": "v", "type": "quantitative", "scale": {"domain": [30, 90], "nice": false, "zero": false}},
                "text": {"field": "t"}
              }
            }
          ]
        },
        {
          "data": {"values": [{"m3": 0}]},
          "mark": {"type": "point", "opacity": 0},
          "encoding": {
            "x": {"field": "m3", "type": "quantitative", "scale": {"domain": [0, 90.85], "nice": false, "zero": false},
              "axis": {"orient": "bottom", "offset": 65, "labelOverlap": false,
                "values": [0,1,2,3,4,5,6,7,8,9,10,11,12,13,14,15,16,17,18,19,20,21,22,23,24,25,26,27,28,29,30,31,32,33,34,35,36,37,38,39,40,41,42,43,44,45,46,47,48,49,50,51,52,53,54,55,56,57,58,59,60,61,62,63,64,65,66,67,68,69,70,71,72,73,74,75,76,77,78,79,80,81,82,83,84,85,86,87,88,89,90],
                "tickSize": {"condition": {"test": "datum.value % 10 == 0", "value": 15}, "value": 7.5},
                "tickWidth": 1.3, "domainWidth": 1.5, "grid": false,
                "labelExpr": "datum.value == 83 ? 'Q [m³/h]' : (datum.value % 10 == 0 && datum.value <= 70 ? datum.label : '')",
                "labelPadding": {"condition": {"test": "datum.value == 83", "value": 16.5}, "value": 9},
                "title": null}}
          }
        },
        {
          "data": {"values": [{"e": 30}]},
          "mark": {"type": "point", "opacity": 0},
          "encoding": {
            "y": {"field": "e", "type": "quantitative", "scale": {"domain": [30, 90], "nice": false, "zero": false},
              "axis": {"orient": "left", "values": [35,45,55,65,75,85], "labelOverlap": false, "tickSize": 15, "grid": false, "domain": false,
                "labelPadding": 6, "title": null}}
          }
        }
      ],
      "resolve": {"scale": {"x": "independent", "y": "independent"}}
    }
  ],
  "spacing": 63.3,
  "bounds": "flush"
}
